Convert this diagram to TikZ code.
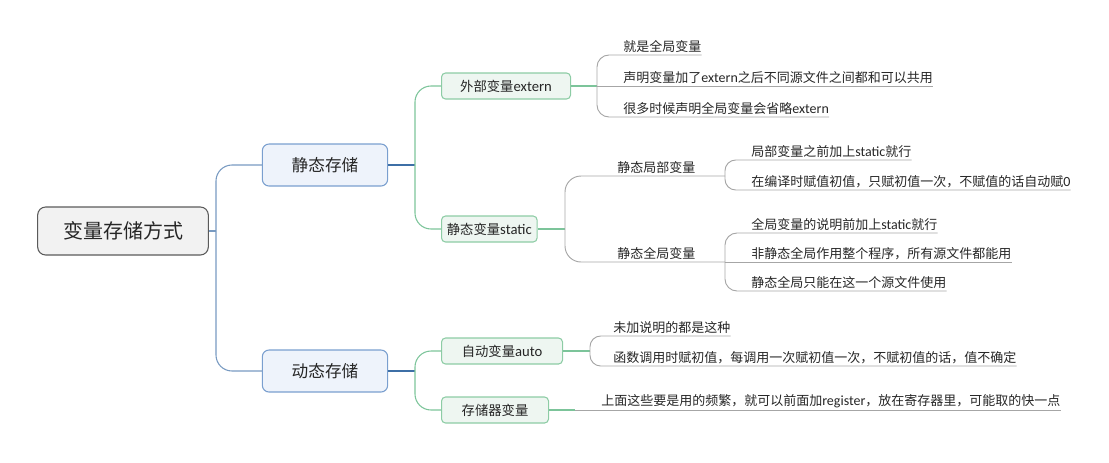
\documentclass[tikz,border=0pt]{standalone}
\usepackage{fontspec}
\setmainfont{Noto Sans CJK SC}
\newfontfamily\latin{Carlito}
\usetikzlibrary{positioning}

\definecolor{rootfill}{HTML}{F2F2F2}
\definecolor{rootline}{HTML}{5A5A5A}
\definecolor{bluefill}{HTML}{EEF3FB}
\definecolor{blueline}{HTML}{7A9FCF}
\definecolor{bluelink}{HTML}{3E6FA6}
\definecolor{greenfill}{HTML}{EEF6F1}
\definecolor{greenline}{HTML}{8DCCA5}
\definecolor{greenlink}{HTML}{7CC49A}
\definecolor{twiggray}{HTML}{A6A6A6}
\definecolor{textgray}{HTML}{262626}

\begin{document}
\begin{tikzpicture}[x=0.75pt,y=-0.75pt]
\tikzset{
  rootbox/.style={draw=rootline,fill=rootfill,rounded corners=6pt,line width=0.8pt,
    minimum width=128pt,minimum height=36pt,text=textgray,font=\fontsize{15}{18}\selectfont},
  mainbox/.style={draw=blueline,fill=bluefill,rounded corners=5pt,line width=0.8pt,
    minimum width=94pt,minimum height=31.5pt,text=textgray,font=\fontsize{12.5}{15}\selectfont},
  subbox/.style={draw=greenline,fill=greenfill,rounded corners=3pt,line width=0.8pt,
    anchor=west,inner xsep=4pt,minimum height=19.5pt,text=textgray,font=\fontsize{10}{12}\selectfont},
  leaf/.style={anchor=south west,inner xsep=0pt,inner ysep=1.5pt,text=textgray,
    font=\fontsize{9.75}{11}\selectfont},
  trunk/.style={draw=bluelink!70!white,line width=0.8pt},
  branch/.style={draw=bluelink,line width=0.8pt},
  greenbranch/.style={draw=greenlink,line width=0.8pt},
  twig/.style={draw=twiggray,line width=0.7pt}
}
\useasboundingbox (0,0) rectangle (1109,462);

% main nodes
\node[rootbox] (root) at (123,231) {变量存储方式};
\node[mainbox] (static) at (325,165) {静态存储};
\node[mainbox] (dynamic) at (325,371) {动态存储};

\node[subbox,minimum width=96.75pt] (ext) at (441,86) {外部变量{\latin\fontsize{11}{12}\selectfont extern}};
\node[subbox,minimum width=69.75pt] (stv) at (441,229) {静态变量{\latin\fontsize{11}{12}\selectfont static}};
\node[subbox,minimum width=90.75pt] (auto) at (441,351) {自动变量{\latin\fontsize{11}{12}\selectfont auto}};
\node[subbox,minimum width=80.25pt] (reg) at (441,410) {存储器变量};

% leaves
\node[leaf] (e1) at (623,55) {就是全局变量};
\node[leaf] (e2) at (623,86) {声明变量加了{\latin\fontsize{10.5}{11}\selectfont extern}之后不同源文件之间都和可以共用};
\node[leaf] (e3) at (623,117) {很多时候声明全局变量会省略{\latin\fontsize{10.5}{11}\selectfont extern}};

\node[leaf] (sl) at (617,176) {静态局部变量};
\node[leaf] (sg) at (617,262) {静态全局变量};

\node[leaf] (l1) at (751,160) {局部变量之前加上{\latin\fontsize{10.5}{11}\selectfont static}就行};
\node[leaf] (l2) at (751,190) {在编译时赋值初值，只赋初值一次，不赋值的话自动赋{\latin\fontsize{10.5}{11}\selectfont 0}};

\node[leaf] (g1) at (751,233) {全局变量的说明前加上{\latin\fontsize{10.5}{11}\selectfont static}就行};
\node[leaf] (g2) at (751,262) {非静态全局作用整个程序，所有源文件都能用};
\node[leaf] (g3) at (751,291) {静态全局只能在这一个源文件使用};

\node[leaf] (a1) at (613,336) {未加说明的都是这种};
\node[leaf] (a2) at (613,366) {函数调用时赋初值，每调用一次赋初值一次，不赋初值的话，值不确定};

\node[leaf] (r1) at (601,410) {上面这些要是用的频繁，就可以前面加{\latin\fontsize{10.5}{11}\selectfont register}，放在寄存器里，可能取的快一点};

% hubs
\coordinate (hubR) at (216,231);
\coordinate (hubS) at (415,165);
\coordinate (hubD) at (415,371);
\coordinate (brE) at (597,86);
\coordinate (brS) at (565,229);
\coordinate (brL) at (725,176);
\coordinate (brG) at (725,262);
\coordinate (brA) at (590,351);
\coordinate (brR) at (575,410);

% connectors
\draw[trunk] (root.east) -- (hubR);
\draw[trunk,rounded corners=12pt] (hubR) |- (static.west);
\draw[trunk,rounded corners=12pt] (hubR) |- (dynamic.west);

\draw[branch] (static.east) -- (hubS);
\draw[greenbranch,rounded corners=12pt] (hubS) |- (ext.west);
\draw[greenbranch,rounded corners=12pt] (hubS) |- (stv.west);
\draw[branch] (dynamic.east) -- (hubD);
\draw[greenbranch,rounded corners=12pt] (hubD) |- (auto.west);
\draw[greenbranch,rounded corners=12pt] (hubD) |- (reg.west);

\draw[greenbranch] (ext.east) -- (brE);
\draw[twig,rounded corners=9pt] (brE) |- (e1.south east);
\draw[twig] (brE) -- (e2.south east);
\draw[twig,rounded corners=9pt] (brE) |- (e3.south east);

\draw[greenbranch] (stv.east) -- (brS);
\draw[twig,rounded corners=12pt] (brS) |- (sl.south west) -- (brL);
\draw[twig,rounded corners=12pt] (brS) |- (sg.south west) -- (brG);
\draw[twig,rounded corners=8pt] (brL) |- (l1.south east);
\draw[twig,rounded corners=8pt] (brL) |- (l2.south east);
\draw[twig,rounded corners=9pt] (brG) |- (g1.south east);
\draw[twig] (brG) -- (g2.south east);
\draw[twig,rounded corners=9pt] (brG) |- (g3.south east);

\draw[greenbranch] (auto.east) -- (brA);
\draw[twig,rounded corners=8pt] (brA) |- (a1.south east);
\draw[twig,rounded corners=8pt] (brA) |- (a2.south east);

\draw[greenbranch] (reg.east) -- (brR);
\draw[twig] (brR) -- (r1.south east);
\end{tikzpicture}
\end{document}
